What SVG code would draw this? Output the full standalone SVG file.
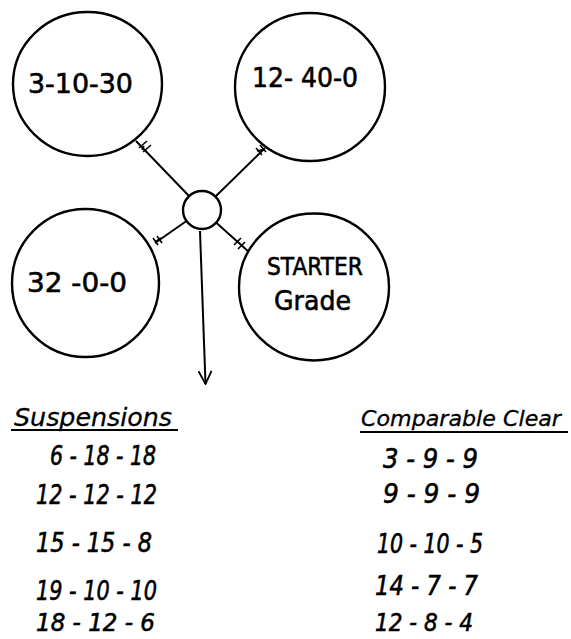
<svg xmlns="http://www.w3.org/2000/svg" width="571" height="639" viewBox="0 0 571 639">
<style>
.node{fill:#fff;stroke:#000;stroke-width:2.4}
.lbl{font-family:"DejaVu Sans","Liberation Sans",sans-serif;font-size:27px;fill:#000;stroke:#000;stroke-width:0.6}
.row{font-family:"DejaVu Sans","Liberation Sans",sans-serif;font-size:26px;font-style:italic;fill:#000;stroke:#000;stroke-width:0.6}
.hdr{font-family:"DejaVu Sans","Liberation Sans",sans-serif;font-size:24px;font-style:italic;fill:#000;stroke:#000;stroke-width:0.3}
.con{stroke:#000;stroke-width:2;fill:none}
.hash{stroke:#000;stroke-width:1.6;fill:none}
.ul{stroke:#000;stroke-width:1.8}
</style>
<defs>
<marker id="arr" viewBox="0 0 16 16" refX="15" refY="8" markerWidth="16" markerHeight="16" markerUnits="userSpaceOnUse" orient="auto">
<path d="M2,1.5 L15,8 L2,14.5" fill="none" stroke="#000" stroke-width="1.8"/>
</marker>
</defs>
<rect width="571" height="639" fill="#fff"/>
<g id="connectors">
<line class="con" x1="189" y1="196" x2="136" y2="141"/>
<line class="con" x1="215.5" y1="196.5" x2="265" y2="148"/>
<line class="con" x1="186.5" y1="221" x2="155" y2="243"/>
<line class="con" x1="216" y1="222.5" x2="249" y2="252"/>
<path class="con" d="M200,231 L205.5,384" marker-end="url(#arr)"/>
<path class="hash" d="M139,148 L147,141 M143,152 L151,145 M144,146 L142,150"/>
<path class="hash" d="M256,148 L262,155 M260,145 L266,152 M257,151 L265,149"/>
<path class="hash" d="M153,238 L158,245 M157,236 L162,243 M155,242 L161,238"/>
<path class="hash" d="M234,245 L241,238 M238,249 L245,242"/>
</g>
<g id="node-3-10-30">
<ellipse class="node" cx="87.5" cy="84" rx="74.5" ry="72"/>
<text class="lbl" x="28" y="93" textLength="105" lengthAdjust="spacingAndGlyphs">3-10-30</text>
</g>
<g id="node-12-40-0">
<ellipse class="node" cx="310" cy="87" rx="75" ry="74"/>
<text class="lbl" x="252" y="87" textLength="106" lengthAdjust="spacingAndGlyphs">12- 40-0</text>
</g>
<g id="node-32-0-0">
<ellipse class="node" cx="85.5" cy="283" rx="73.5" ry="74"/>
<text class="lbl" x="27" y="292" textLength="100" lengthAdjust="spacingAndGlyphs">32 -0-0</text>
</g>
<g id="node-starter">
<ellipse class="node" cx="314" cy="287" rx="75" ry="73.5"/>
<text class="lbl" x="267" y="275" textLength="96" lengthAdjust="spacingAndGlyphs" style="font-size:24px">STARTER</text>
<text class="lbl" x="274" y="310" textLength="77" lengthAdjust="spacingAndGlyphs">Grade</text>
</g>
<g id="node-hub">
<circle class="node" cx="202" cy="210" r="19"/>
</g>
<g id="table">
<text class="hdr" x="14" y="426" textLength="158" lengthAdjust="spacingAndGlyphs">Suspensions</text>
<line class="ul" x1="11" y1="430" x2="178" y2="430"/>
<text class="hdr" x="361" y="426" textLength="200" lengthAdjust="spacingAndGlyphs" style="font-size:22px">Comparable Clear</text>
<line class="ul" x1="360" y1="432" x2="568" y2="432"/>
<text class="row" x="50" y="465" textLength="106" lengthAdjust="spacingAndGlyphs">6 - 18 - 18</text>
<text class="row" x="36" y="504" textLength="121" lengthAdjust="spacingAndGlyphs">12 - 12 - 12</text>
<text class="row" x="36" y="552" textLength="116" lengthAdjust="spacingAndGlyphs">15 - 15 - 8</text>
<text class="row" x="36" y="600" textLength="121" lengthAdjust="spacingAndGlyphs">19 - 10 - 10</text>
<text class="row" x="36" y="631" textLength="119" lengthAdjust="spacingAndGlyphs" style="font-size:24px">18 - 12 - 6</text>
<text class="row" x="383" y="468" textLength="95" lengthAdjust="spacingAndGlyphs">3 - 9 - 9</text>
<text class="row" x="383" y="503" textLength="97" lengthAdjust="spacingAndGlyphs">9 - 9 - 9</text>
<text class="row" x="377" y="553" textLength="106" lengthAdjust="spacingAndGlyphs">10 - 10 - 5</text>
<text class="row" x="375" y="595" textLength="103" lengthAdjust="spacingAndGlyphs">14 - 7 - 7</text>
<text class="row" x="375" y="631" textLength="98" lengthAdjust="spacingAndGlyphs" style="font-size:24px">12 - 8 - 4</text>
</g>
</svg>
